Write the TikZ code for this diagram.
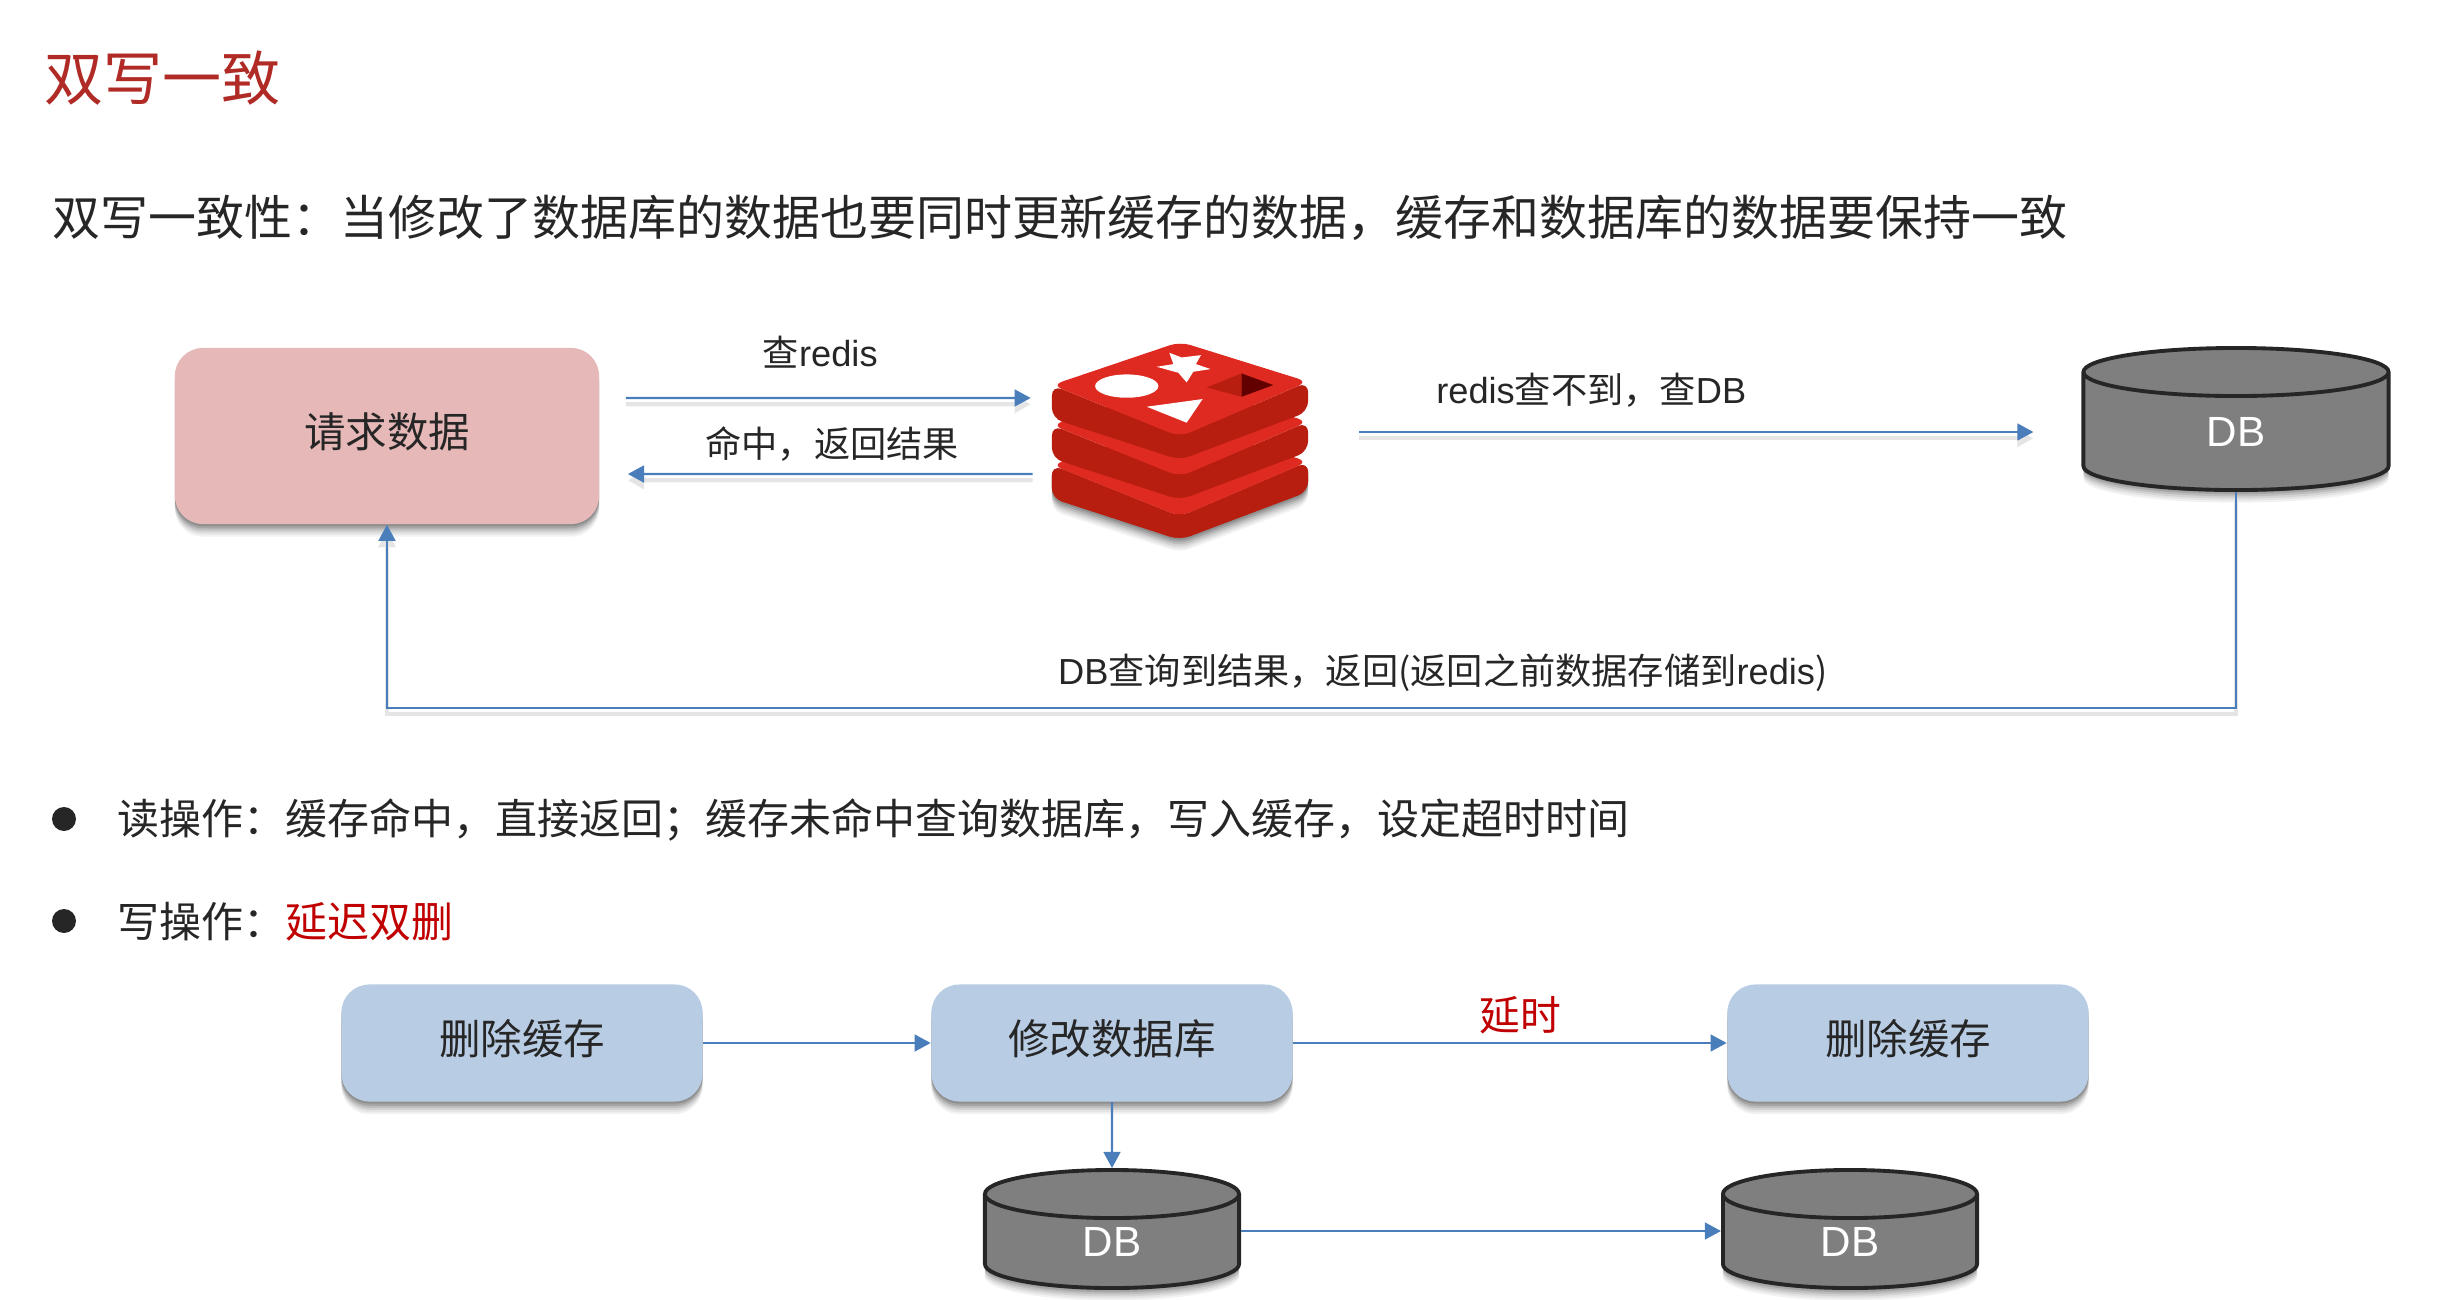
\documentclass[tikz,border=0pt]{standalone}
\usepackage{fontspec}
\setmainfont{Noto Sans CJK SC}
\newfontfamily\latinfont{Liberation Sans}
\newcommand{\lat}[1]{{\latinfont #1}}
\newcommand{\fwcomma}{\char"FF0C\relax}
\newcommand{\fwcolon}{\char"FF1A\relax}
\newcommand{\fwsemi}{\char"FF1B\relax}
\usetikzlibrary{arrows.meta,shadows,shapes.geometric}
\definecolor{flowblue}{HTML}{4A7EBB}
\definecolor{boxblue}{HTML}{B8CCE4}
\definecolor{boxpink}{HTML}{E6B8B7}
\definecolor{titlered}{HTML}{B02A26}
\definecolor{markred}{HTML}{C00000}
\definecolor{inkgray}{HTML}{262626}
\definecolor{dbgray}{HTML}{7F7F7F}
\definecolor{redistop}{HTML}{DE2A20}
\definecolor{redisside}{HTML}{B81E10}
\tikzset{
  softshadow/.style={
    drop shadow={shadow xshift=0pt,shadow yshift=-0.6pt,opacity=.14,fill=black},
    drop shadow={shadow xshift=0pt,shadow yshift=-1.2pt,opacity=.12,fill=black},
    drop shadow={shadow xshift=0pt,shadow yshift=-1.8pt,opacity=.1,fill=black},
    drop shadow={shadow xshift=0pt,shadow yshift=-2.4pt,opacity=.08,fill=black},
    drop shadow={shadow xshift=0pt,shadow yshift=-3pt,opacity=.06,fill=black},
    drop shadow={shadow xshift=0pt,shadow yshift=-3.6pt,opacity=.05,fill=black}},
  stepbox/.style={rounded corners=0.28cm, softshadow, text=inkgray, text depth=3.2pt, font=\fontsize{11.8}{14}\selectfont},
  dbnode/.style={cylinder, shape border rotate=90, aspect=0.82, draw=black!85, line width=1.1pt,
    fill=dbgray, softshadow, text=white, inner sep=0pt, font=\fontsize{12}{14}\selectfont\latinfont},
  flow/.style={draw=flowblue, line width=0.65pt, -{Triangle[length=4.6pt,width=4.8pt]}, flowblue},
  flowshadow/.style={preaction={draw=black!10, line width=1.2pt, transform canvas={yshift=-1.8pt}}},
  flowlabel/.style={text=inkgray, font=\fontsize{10.3}{13}\selectfont},
  bodytext/.style={text=inkgray, anchor=west, inner sep=0pt, font=\fontsize{11.94}{14}\selectfont},
}
\begin{document}
\begin{tikzpicture}[x=0.01cm,y=-0.01cm]
  \useasboundingbox (0,0) rectangle (2447,1300);
  % headings
  \node[anchor=west, inner sep=0pt, text=titlered, font=\fontsize{16.8}{20}\selectfont] (title) at (44,78) {双写一致};
  \node[anchor=west, inner sep=0pt, text=inkgray, font=\fontsize{13.64}{16}\selectfont] (intro) at (52,218)
    {双写一致性\fwcolon 当修改了数据库的数据也要同时更新缓存的数据\fwcomma 缓存和数据库的数据要保持一致};
  % read path
  \node[stepbox, fill=boxpink, minimum width=4.24cm, minimum height=1.76cm] (request) at (387,436) {请求数据};
  \node[minimum width=2.57cm, minimum height=1.97cm] (redis) at (1180,440) {};
  \node[dbnode, minimum width=3.05cm, minimum height=1.42cm] (dbread) at (2236,432) {DB};
  \coordinate (backline) at (0,708);
  % redis logo
  \begin{scope}[shift={(redis.center)},x=0.00333cm,y=-0.00333cm]
    \fill[redisside, rounded corners=3pt, softshadow] (-385,75) -- (0,230) -- (385,65) -- (385,155) -- (0,300) -- (-385,175) -- cycle;
    \foreach \dy in {240,120,0} {
      \fill[redisside, rounded corners=3pt] (-385,{-165+\dy}) -- (0,{-10+\dy}) -- (385,{-175+\dy}) -- (385,{-85+\dy}) -- (0,{60+\dy}) -- (-385,{-65+\dy}) -- cycle;
      \fill[redistop, rounded corners=3pt] (0,{-295+\dy}) -- (385,{-175+\dy}) -- (0,{-10+\dy}) -- (-385,{-165+\dy}) -- cycle;
    }
    \fill[white] (-32,-262) -- (5,-248) -- (63,-255) -- (48,-228) -- (92,-213) -- (40,-205) -- (20,-173) -- (-5,-202) -- (-70,-220) -- (-20,-228) -- cycle;
    \fill[white] (-160,-162) ellipse (95 and 35);
    \fill[white] (-100,-100) -- (68,-123) -- (20,-52) -- cycle;
    \fill[redisside] (80,-158) -- (185,-200) -- (185,-130) -- cycle;
    \fill[black!45!red!70!black] (185,-200) -- (280,-165) -- (185,-130) -- cycle;
  \end{scope}
  \draw[flow, flowshadow] ([xshift=0.26cm,yshift=0.38cm]request.east) -- node[flowlabel, above=0.17cm, xshift=-0.08cm] (qlabel) {查\lat{redis}} ([xshift=-0.20cm,yshift=0.42cm]redis.west);
  \draw[flow, flowshadow] ([xshift=-0.18cm,yshift=-0.34cm]redis.west) -- node[flowlabel, above=0cm, xshift=0.02cm] (hitlabel) {命中\fwcomma 返回结果} ([xshift=0.28cm,yshift=-0.38cm]request.east);
  \draw[flow, flowshadow] ([xshift=0.50cm,yshift=0.08cm]redis.east) -- node[flowlabel, above=0.12cm, xshift=-1.05cm] (misslabel) {\lat{redis}查不到\fwcomma 查\lat{DB}} ([xshift=-0.48cm,yshift=0.08cm]dbread.west |- redis.east);
  \draw[flow, flowshadow] (dbread.south) -- (dbread.south |- backline) -- node[flowlabel, pos=0.429, above=0.04cm] (backlabel) {\lat{DB}查询到结果\fwcomma 返回(返回之前数据存储到\lat{redis})} (request.south |- backline) -- (request.south);
  % bullets
  \fill[inkgray] (64,819) circle (12);
  \fill[inkgray] (64,921) circle (12);
  \node[bodytext] (readop) at (117,820) {读操作\fwcolon 缓存命中\fwcomma 直接返回\fwsemi 缓存未命中查询数据库\fwcomma 写入缓存\fwcomma 设定超时时间};
  \node[bodytext] (writeop) at (117,922) {写操作\fwcolon \textcolor{markred}{延迟双删}};
  % write path
  \node[stepbox, fill=boxblue, minimum width=3.61cm, minimum height=1.17cm] (delfirst) at (522,1043) {删除缓存};
  \node[stepbox, fill=boxblue, minimum width=3.61cm, minimum height=1.17cm] (update) at (1112,1043) {修改数据库};
  \node[stepbox, fill=boxblue, minimum width=3.61cm, minimum height=1.17cm] (delsecond) at (1908,1043) {删除缓存};
  \node[dbnode, minimum width=2.54cm, minimum height=1.18cm] (dbold) at (1112,1242) {DB};
  \node[dbnode, minimum width=2.54cm, minimum height=1.18cm] (dbnew) at (1850,1242) {DB};
  \draw[flow] (delfirst) -- (update);
  \draw[flow] (update) -- node[above=-0.04cm, text=markred, font=\fontsize{11.6}{14}\selectfont, xshift=0.10cm] (delaylabel) {延时} (delsecond);
  \draw[flow] (update) -- (dbold);
  \draw[flow] ([yshift=0.11cm]dbold.east) -- ([yshift=0.11cm]dbnew.west);
\end{tikzpicture}
\end{document}
